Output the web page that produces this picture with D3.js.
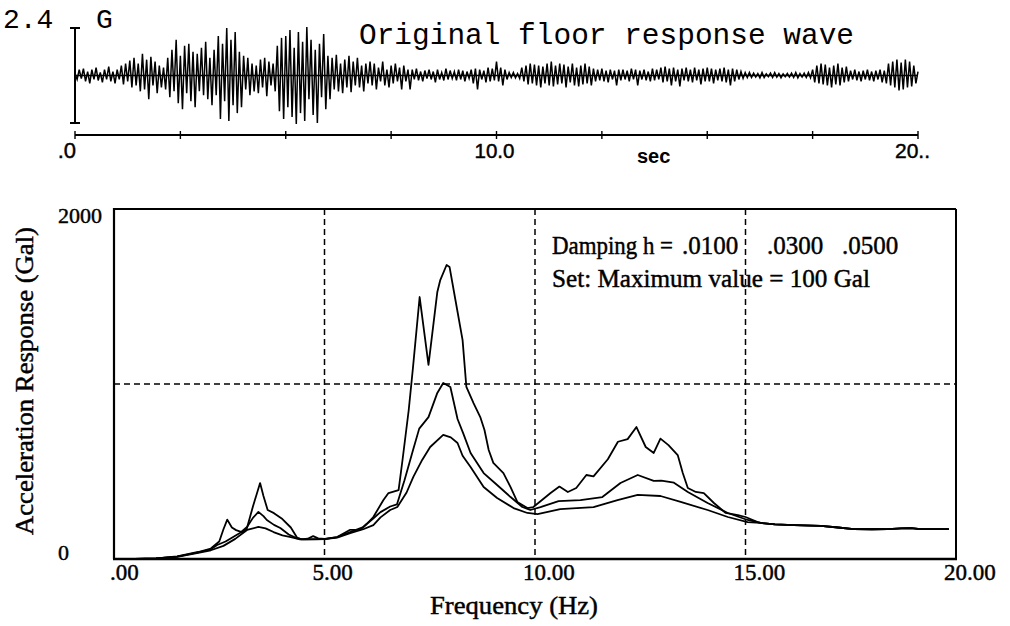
<!DOCTYPE html>
<html>
<head>
<meta charset="utf-8">
<script src="https://cdn.jsdelivr.net/npm/d3@7"></script>
<style>
  html, body { margin: 0; padding: 0; background: #fff; }
  svg { display: block; }
  .ink { stroke: #000; stroke-width: 0.45px; }
</style>
</head>
<body>
<svg id="chart" width="1010" height="626"></svg>
<script>
// ---------------------------------------------------------------
// Floor acceleration record (G), one sample every 0.05 s, 0 – 20 s
// ---------------------------------------------------------------
const waveStep = 0.05;
const waveValues = [
  0.1,-0.2,0.3,-0.15,0.35,-0.3,0.2,-0.4,0.3,-0.2,0.4,-0.25,0.15,-0.35,0.3,-0.2,0.45,-0.3,0.2,-0.4,
  0.3,-0.2,0.5,-0.45,0.6,-0.3,0.75,-0.6,0.9,-0.5,0.6,-0.8,1.1,-0.7,0.8,-1.2,0.95,-0.5,0.7,-0.9,
  0.5,-0.6,0.4,-0.7,0.9,-1.1,1.3,-0.8,1.8,-1.4,1.0,-1.7,1.5,-0.9,1.6,-1.3,1.2,-1.6,1.1,-0.8,
  1.4,-1.0,1.7,-1.2,0.9,-1.5,1.3,-1.0,2.0,-2.2,1.6,-1.3,2.4,-2.3,1.8,-1.5,2.2,-1.9,1.2,-1.6,
  1.0,-0.7,0.9,-1.0,0.6,-0.8,0.5,-0.9,0.8,-0.6,0.9,-1.05,0.7,-0.5,0.6,-0.8,1.5,-1.8,1.9,-2.2,
  2.0,-1.6,2.3,-2.1,1.4,-2.45,2.2,-1.9,1.7,-2.3,2.45,-1.2,1.8,-2.0,1.3,-2.4,1.6,-1.1,2.1,-1.7,
  1.0,-1.2,0.9,-0.7,1.05,-0.8,0.6,-0.9,0.8,-0.6,1.0,-0.85,0.7,-0.5,0.9,-0.6,0.5,-0.8,0.6,-0.4,
  0.7,-0.5,0.6,-0.7,0.4,-0.3,0.7,-0.5,0.3,-0.6,0.5,-0.4,0.6,-0.3,0.4,-0.7,0.5,-0.3,0.3,-0.7,
  0.3,-0.2,0.35,-0.25,0.2,-0.3,0.25,-0.15,0.3,-0.2,0.2,-0.35,0.3,-0.2,0.15,-0.25,0.35,-0.2,0.25,-0.15,
  0.2,-0.25,0.3,-0.2,0.25,-0.3,0.2,-0.15,0.3,-0.4,0.35,-0.7,0.3,-0.2,0.25,-0.35,0.4,-0.3,0.35,-0.25,
  0.7,-0.3,0.4,-0.5,0.3,-0.2,0.15,-0.1,0.15,-0.12,0.1,-0.15,0.4,-0.3,0.5,-0.45,0.6,-0.4,0.55,-0.5,
  0.5,-0.6,0.45,-0.4,0.6,-0.5,0.7,-0.55,0.5,-0.45,0.6,-0.4,0.55,-0.6,0.45,-0.35,0.6,-0.5,0.4,-0.55,
  0.5,-0.45,0.6,-0.4,0.45,-0.5,0.35,-0.3,0.3,-0.25,0.35,-0.3,0.25,-0.35,0.3,-0.2,0.25,-0.5,0.3,-0.25,
  0.3,-0.2,0.25,-0.3,0.35,-0.2,0.3,-0.5,0.25,-0.2,0.3,-0.25,0.2,-0.3,0.35,-0.25,0.3,-0.2,0.4,-0.35,
  0.45,-0.3,0.35,-0.5,0.4,-0.3,0.3,-0.55,0.35,-0.25,0.4,-0.3,0.3,-0.35,0.4,-0.25,0.3,-0.45,0.35,-0.3,
  0.4,-0.3,0.35,-0.4,0.3,-0.25,0.35,-0.3,0.4,-0.35,0.3,-0.5,0.35,-0.3,0.3,-0.2,0.2,-0.15,0.15,-0.1,
  0.15,-0.1,0.12,-0.08,0.1,-0.12,0.15,-0.1,0.08,-0.06,0.12,-0.1,0.15,-0.08,0.1,-0.12,0.08,-0.06,0.1,-0.08,
  0.12,-0.1,0.15,-0.12,0.1,-0.08,0.12,-0.1,0.15,-0.12,0.3,-0.35,0.5,-0.4,0.6,-0.45,0.55,-0.5,0.4,-0.6,
  0.5,-0.45,0.6,-0.5,0.4,-0.35,0.45,-0.3,0.25,-0.2,0.3,-0.25,0.2,-0.3,0.25,-0.2,0.3,-0.25,0.2,-0.3,
  0.25,-0.2,0.3,-0.35,0.25,-0.4,0.6,-0.5,0.7,-0.6,0.8,-0.75,0.65,-0.7,0.8,-0.6,0.7,-0.55,0.5,-0.4,
  0.2
];
const waveScaleMax = 2.4;                       // G, height of the scale bar
const waveTimeTicks = [0, 2.5, 5, 7.5, 10, 12.5, 15, 17.5, 20];
const waveTimeLabelAt = [0, 10, 20];
const waveTimeLabelText = [".0", "10.0", "20.."];

// ---------------------------------------------------------------
// Acceleration response spectra, [frequency Hz, response Gal]
// ---------------------------------------------------------------
const dampingLevels = [".0100", ".0300", ".0500"];

const spectrumH0100 = [
  [0.5,0],[1.0,4],[1.5,15],[2.0,40],[2.3,60],[2.5,100],[2.6,170],[2.69,225],[2.8,180],[2.9,165],
  [3.05,152],[3.15,170],[3.3,300],[3.47,434],[3.55,360],[3.65,280],[3.8,262],[4.0,228],[4.2,180],
  [4.35,122],[4.45,112],[4.6,116],[4.73,131],[4.85,118],[5.0,115],[5.3,125],[5.6,166],[5.85,166],
  [6.0,200],[6.16,240],[6.4,337],[6.52,377],[6.76,394],[6.85,560],[7.0,850],[7.1,1090],[7.26,1497],
  [7.47,1109],[7.68,1526],[7.75,1594],[7.9,1680],[7.97,1669],[8.11,1480],[8.28,1251],[8.37,983],
  [8.54,891],[8.7,811],[8.8,737],[8.9,623],[9.01,549],[9.25,491],[9.42,411],[9.58,326],[9.82,291],
  [9.96,297],[10.13,330],[10.37,377],[10.58,414],[10.78,383],[10.98,406],[11.22,480],[11.39,472],
  [11.73,570],[11.97,670],[12.2,685],[12.41,754],[12.63,640],[12.82,606],[12.98,688],[13.17,651],
  [13.39,594],[13.51,491],[13.63,406],[13.82,383],[14.01,377],[14.25,320],[14.53,263],[14.82,251],
  [15.0,240],[15.29,211]
];
const spectrumH0300 = [
  [0.5,0],[1.0,4],[1.5,14],[2.0,38],[2.3,55],[2.45,80],[2.65,100],[2.83,126],[3.0,150],[3.16,183],
  [3.3,235],[3.43,269],[3.55,245],[3.63,223],[3.8,195],[3.95,177],[4.15,140],[4.35,118],[4.5,112],
  [4.8,114],[5.0,114],[5.3,125],[5.61,154],[5.92,183],[6.15,230],[6.33,268],[6.56,300],[6.72,312],
  [6.9,450],[7.1,620],[7.25,745],[7.47,811],[7.68,949],[7.82,1006],[7.99,983],[8.16,800],[8.3,715],
  [8.47,606],[8.78,491],[9.1,423],[9.42,354],[9.7,297],[9.89,280],[10.13,297],[10.56,331],[11.08,337],
  [11.6,354],[12.03,434],[12.44,480],[12.82,446],[13.0,448],[13.3,436],[13.63,383],[14.1,320],
  [14.58,263],[15.05,223]
];
const spectrumH0500 = [
  [0.5,0],[1.0,3],[1.5,12],[2.0,35],[2.3,50],[2.6,75],[2.88,115],[3.16,166],[3.43,183],[3.6,175],
  [3.79,154],[4.0,135],[4.2,125],[4.42,112],[4.8,112],[5.0,113],[5.3,122],[5.61,148],[5.92,170],
  [6.16,194],[6.33,238],[6.56,280],[6.73,297],[6.95,380],[7.11,469],[7.32,566],[7.51,640],[7.82,709],
  [8.0,695],[8.16,663],[8.28,590],[8.47,526],[8.78,411],[9.1,349],[9.49,291],[9.82,263],[10.06,257],
  [10.6,285],[11.39,297],[11.96,337],[12.44,366],[12.98,360],[13.46,326],[14.1,280],[14.58,240],
  [15.05,211]
];
// above ~15 Hz the three spectra coincide
const spectrumTail = [
  [15.36,206],[15.7,198],[16.15,194],[16.79,189],[17.2,180],[17.57,171],[18.0,170],[18.38,171],
  [18.7,175],[18.93,177],[19.1,172],[19.4,171],[19.83,171]
];

const freqTicks = [0, 5, 10, 15, 20];
const freqTickLabels = [".00", "5.00", "10.00", "15.00", "20.00"];
const respTicks = [2000, 0];
const respTickLabels = ["2000", "0"];
const gridFreqs = [5, 10, 15];
const gridResps = [1000];

// ---------------------------------------------------------------
const svg = d3.select("#chart");
const SERIF = "'Liberation Serif','Times New Roman',serif";
const MONO = "'Liberation Mono','Courier New',monospace";
const SANS = "'Liberation Sans',Arial,sans-serif";

// ===== upper panel: time history =====
const tx = d3.scaleLinear().domain([0, 20]).range([75, 918]);
const wy = d3.scaleLinear().domain([-waveScaleMax, waveScaleMax]).range([123, 28]);
const timeAxisY = 135;

const upper = svg.append("g");

// scale bar with end caps
upper.append("line").attr("x1", tx(0)).attr("x2", tx(0))
  .attr("y1", wy(waveScaleMax)).attr("y2", wy(-waveScaleMax))
  .attr("stroke", "#000").attr("stroke-width", 2);
[waveScaleMax, -waveScaleMax].forEach(v => {
  upper.append("line").attr("x1", tx(0) - 5).attr("x2", tx(0) + 5)
    .attr("y1", wy(v)).attr("y2", wy(v))
    .attr("stroke", "#000").attr("stroke-width", 2);
});

// zero line
upper.append("line").attr("x1", tx(0)).attr("x2", tx(20))
  .attr("y1", wy(0)).attr("y2", wy(0))
  .attr("stroke", "#000").attr("stroke-width", 1.6);

// trace
const wavePts = waveValues.map((v, i) => [i * waveStep, v]);
upper.append("path")
  .attr("d", d3.line().x(d => tx(d[0])).y(d => wy(d[1]))(wavePts))
  .attr("fill", "none").attr("stroke", "#000").attr("stroke-width", 1.5)
  .attr("stroke-linejoin", "miter");

// time axis
upper.append("line").attr("x1", tx(0)).attr("x2", tx(20))
  .attr("y1", timeAxisY).attr("y2", timeAxisY)
  .attr("stroke", "#000").attr("stroke-width", 2.2);
upper.selectAll(".wtick").data(waveTimeTicks).enter().append("line")
  .attr("x1", d => tx(d)).attr("x2", d => tx(d))
  .attr("y1", timeAxisY - 4).attr("y2", timeAxisY + 4)
  .attr("stroke", "#000").attr("stroke-width", 1.4);

upper.append("text").attr("class", "ink").attr("x", tx(waveTimeLabelAt[0]) + 1).attr("y", 158)
  .attr("text-anchor", "end").attr("font-family", SANS).attr("font-size", 22)
  .text(waveTimeLabelText[0]);
upper.append("text").attr("class", "ink").attr("x", tx(waveTimeLabelAt[1]) - 2).attr("y", 158)
  .attr("text-anchor", "middle").attr("font-family", SANS).attr("font-size", 21)
  .attr("textLength", 40).attr("lengthAdjust", "spacingAndGlyphs")
  .text(waveTimeLabelText[1]);
upper.append("text").attr("class", "ink").attr("x", tx(waveTimeLabelAt[2]) - 23).attr("y", 158)
  .attr("font-family", SANS).attr("font-size", 21)
  .text(waveTimeLabelText[2]);
upper.append("text").attr("x", 637).attr("y", 163)
  .attr("font-family", SANS).attr("font-size", 20).attr("font-weight", "bold")
  .text("sec");

upper.append("text").attr("x", 3).attr("y", 28)
  .attr("font-family", MONO).attr("font-size", 28).text("2.4");
upper.append("text").attr("x", 96).attr("y", 28)
  .attr("font-family", MONO).attr("font-size", 28).text("G");
upper.append("text").attr("x", 359).attr("y", 44)
  .attr("font-family", MONO).attr("font-size", 29)
  .attr("textLength", 495).attr("lengthAdjust", "spacingAndGlyphs")
  .text("Original floor response wave");

// ===== lower panel: response spectra =====
const fx = d3.scaleLinear().domain([0, 20]).range([114, 956]);
const ry = d3.scaleLinear().domain([0, 2000]).range([559, 209]);

const lower = svg.append("g");

// dashed grid
lower.selectAll(".vgrid").data(gridFreqs).enter().append("line")
  .attr("x1", d => fx(d)).attr("x2", d => fx(d))
  .attr("y1", ry(2000)).attr("y2", ry(0))
  .attr("stroke", "#000").attr("stroke-width", 1.5).attr("stroke-dasharray", "6,4");
lower.selectAll(".hgrid").data(gridResps).enter().append("line")
  .attr("x1", fx(0)).attr("x2", fx(20))
  .attr("y1", d => ry(d)).attr("y2", d => ry(d))
  .attr("stroke", "#000").attr("stroke-width", 1.5).attr("stroke-dasharray", "6,4");

// spectra
const specLine = d3.line().x(d => fx(d[0])).y(d => ry(d[1]));
[spectrumH0100, spectrumH0300, spectrumH0500].forEach(s => {
  lower.append("path")
    .attr("d", specLine(s.concat(spectrumTail)))
    .attr("fill", "none").attr("stroke", "#000").attr("stroke-width", 1.8)
    .attr("stroke-linejoin", "round");
});

// frame
lower.append("line").attr("x1", fx(0)).attr("x2", fx(20)).attr("y1", ry(2000)).attr("y2", ry(2000))
  .attr("stroke", "#000").attr("stroke-width", 2);
lower.append("line").attr("x1", fx(20)).attr("x2", fx(20)).attr("y1", ry(2000)).attr("y2", ry(0))
  .attr("stroke", "#000").attr("stroke-width", 2);
lower.append("line").attr("x1", fx(0)).attr("x2", fx(0)).attr("y1", ry(2000) - 1).attr("y2", ry(0))
  .attr("stroke", "#000").attr("stroke-width", 2.2);
lower.append("line").attr("x1", fx(0) - 1).attr("x2", fx(20) + 1).attr("y1", ry(0)).attr("y2", ry(0))
  .attr("stroke", "#000").attr("stroke-width", 2.6);

// tick labels
lower.selectAll(".xlab").data(freqTicks).enter().append("text")
  .attr("class", "ink")
  .attr("x", (d, i) => fx(d) - (i === 0 ? 4 : 12)).attr("y", 580)
  .attr("font-family", SERIF).attr("font-size", 23)
  .text((d, i) => freqTickLabels[i]);
lower.selectAll(".ylab").data(respTicks).enter().append("text")
  .attr("class", "ink")
  .attr("x", 58).attr("y", d => d === 0 ? 560 : 223)
  .attr("font-family", SERIF).attr("font-size", 22)
  .text((d, i) => respTickLabels[i]);

// axis titles
lower.append("text").attr("class", "ink").attr("x", 430).attr("y", 614)
  .attr("font-family", SERIF).attr("font-size", 26)
  .attr("textLength", 168).attr("lengthAdjust", "spacingAndGlyphs")
  .text("Frequency (Hz)");
lower.append("text").attr("class", "ink").attr("transform", "translate(33,381) rotate(-90)")
  .attr("text-anchor", "middle")
  .attr("font-family", SERIF).attr("font-size", 26)
  .attr("textLength", 308).attr("lengthAdjust", "spacingAndGlyphs")
  .text("Acceleration Response (Gal)");

// damping legend
const lg = lower.append("g").attr("class", "ink")
  .attr("font-family", SERIF).attr("font-size", 25);
lg.append("text").attr("x", 552).attr("y", 254)
  .attr("textLength", 121).attr("lengthAdjust", "spacingAndGlyphs")
  .text("Damping h =");
const dampX = [682, 767, 842];
dampingLevels.forEach((d, i) => lg.append("text").attr("x", dampX[i]).attr("y", 254).text(d));
lg.append("text").attr("x", 552).attr("y", 287)
  .attr("textLength", 318).attr("lengthAdjust", "spacingAndGlyphs")
  .text("Set: Maximum value = 100 Gal");
</script>
</body>
</html>
